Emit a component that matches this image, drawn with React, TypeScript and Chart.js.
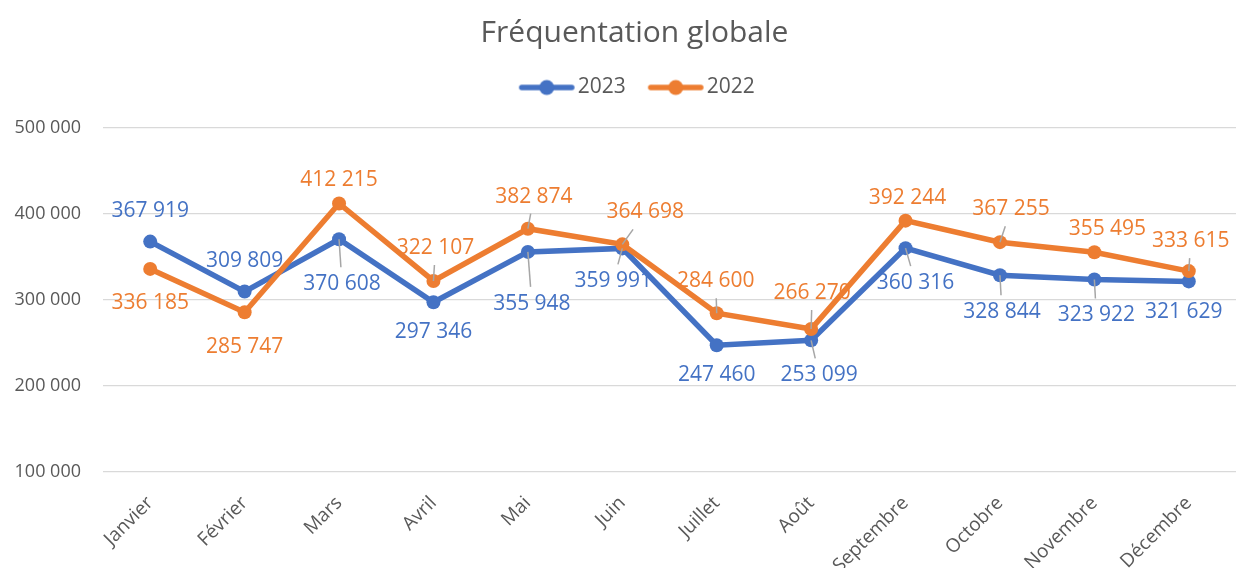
import React, { useEffect, useRef } from "react";
import { Chart, registerables } from "chart.js";

Chart.register(...registerables);

const months = [
  "Janvier", "Février", "Mars", "Avril", "Mai", "Juin",
  "Juillet", "Août", "Septembre", "Octobre", "Novembre", "Décembre",
];
const values2023 = [367919, 309809, 370608, 297346, 355948, 359991, 247460, 253099, 360316, 328844, 323922, 321629];
const values2022 = [336185, 285747, 412215, 322107, 382874, 364698, 284600, 266270, 392244, 367255, 355495, 333615];
const yMin = 100000;
const yMax = 500000;
const yStep = 100000;

// label placement relative to each point: [dx, dy, leaderLine]
const labelPos2023: [number, number, boolean][] = [
  [0, -31, false], [0, -31, false], [3, 45, true], [0, 30, false], [4, 52, true], [-9, 33, true],
  [0, 30, false], [8, 35, true], [10, 35, true], [2, 37, true], [2, 36, true], [-5, 31, false],
];
const labelPos2022: [number, number, boolean][] = [
  [0, 34, false], [0, 35, false], [0, -23, false], [2, -33, true], [6, -32, true], [23, -32, true],
  [-1, -32, true], [1, -36, true], [2, -23, false], [11, -33, true], [13, -23, false], [2, -30, true],
];

const BLUE = "#4472C4";
const ORANGE = "#ED7D31";
const FONT = "'Open Sans', sans-serif";

const fmt = (v: number) => String(v).replace(/\B(?=(\d{3})+(?!\d))/g, " ");

const valueLabels = {
  id: "valueLabels",
  afterDatasetsDraw(chart: any) {
    const ctx = chart.ctx;
    chart.data.datasets.forEach((ds: any, di: number) => {
      const meta = chart.getDatasetMeta(di);
      const layout = di === 0 ? labelPos2023 : labelPos2022;
      ctx.save();
      ctx.font = `21px ${FONT}`;
      ctx.textAlign = "center";
      ctx.textBaseline = "middle";
      meta.data.forEach((pt: any, i: number) => {
        const [dx, dy, leader] = layout[i];
        const text = fmt(ds.data[i]);
        const cx = pt.x + dx;
        const cy = pt.y + dy;
        if (leader) {
          const w = ctx.measureText(text).width / 2 + 6;
          const h = 11 + 6;
          const vx = cx - pt.x;
          const vy = cy - pt.y;
          const s = Math.min(vx ? w / Math.abs(vx) : Infinity, vy ? h / Math.abs(vy) : Infinity);
          const t = 1 - s;
          if (t > 0) {
            ctx.strokeStyle = "#a6a6a6";
            ctx.lineWidth = 1.5;
            ctx.beginPath();
            ctx.moveTo(pt.x, pt.y);
            ctx.lineTo(pt.x + vx * t, pt.y + vy * t);
            ctx.stroke();
          }
        }
        ctx.fillStyle = ds.borderColor;
        ctx.fillText(text, cx, cy);
      });
      ctx.restore();
    });
  },
};

function legendSwatch(color: string) {
  const c = document.createElement("canvas");
  c.width = 72;
  c.height = 18;
  const g = c.getContext("2d")!;
  g.strokeStyle = color;
  g.lineWidth = 5.5;
  g.lineCap = "round";
  g.beginPath();
  g.moveTo(17, 9);
  g.lineTo(67, 9);
  g.stroke();
  g.fillStyle = color;
  g.beginPath();
  g.arc(42, 9, 7.5, 0, Math.PI * 2);
  g.fill();
  return c;
}

export default function App() {
  const ref = useRef<HTMLCanvasElement>(null);
  useEffect(() => {
    if (!ref.current) return;
    const swatches = [legendSwatch(BLUE), legendSwatch(ORANGE)];
    const common = {
      borderWidth: 5.5,
      pointRadius: 7,
      pointBorderWidth: 0,
      tension: 0,
      xAxisID: "x",
      yAxisID: "y",
    };
    const chart = new Chart(ref.current, {
      type: "line",
      data: {
        labels: months,
        datasets: [
          {
            ...common,
            label: "2023",
            data: values2023,
            borderColor: BLUE,
            backgroundColor: BLUE,
            pointBackgroundColor: BLUE,
            order: 2,
          },
          {
            ...common,
            label: "2022",
            data: values2022,
            borderColor: ORANGE,
            backgroundColor: ORANGE,
            pointBackgroundColor: ORANGE,
            order: 1,
          },
        ],
      },
      options: {
        responsive: false,
        animation: false,
        events: [],
        layout: { padding: { left: 26, right: 0, top: 0, bottom: 0 } },
        plugins: {
          tooltip: { enabled: false },
          title: {
            display: true,
            text: "Fréquentation globale",
            color: "#595959",
            font: { family: FONT, size: 30, weight: "normal" },
            padding: { top: 15, bottom: 8.5 },
          },
          legend: {
            display: true,
            position: "top",
            labels: {
              usePointStyle: true,
              pointStyleWidth: 53,
              padding: 17.5,
              color: "#595959",
              font: { family: FONT, size: 21 },
              generateLabels: (c: any) => {
                const items = Chart.defaults.plugins.legend.labels.generateLabels(c);
                items.sort((a: any, b: any) => a.datasetIndex - b.datasetIndex);
                items.forEach((it: any) => {
                  it.pointStyle = swatches[it.datasetIndex];
                });
                return items;
              },
            },
          },
        },
        scales: {
          x: {
            offset: true,
            grid: { display: false },
            border: { display: false },
            ticks: {
              color: "#595959",
              font: { family: FONT, size: 19 },
              minRotation: 45,
              maxRotation: 45,
              autoSkip: false,
              padding: 12,
            },
            afterFit: (s: any) => {
              s.height = 96;
              s.paddingLeft = 0;
              s.paddingRight = 0;
            },
          },
          xTop: {
            type: "category",
            position: "top",
            offset: true,
            grid: { display: false, drawTicks: false },
            border: { display: false },
            ticks: { display: false },
            afterFit: (s: any) => {
              s.height = 20;
              s.paddingLeft = 0;
              s.paddingRight = 0;
            },
          },
          y: {
            min: yMin,
            max: yMax,
            grid: { color: "#d9d9d9", lineWidth: 1.3, drawTicks: false },
            border: { display: false },
            ticks: {
              stepSize: yStep,
              padding: 22,
              color: "#595959",
              font: { family: FONT, size: 18 },
              callback: (v: any) => fmt(Number(v)),
            },
            afterFit: (s: any) => {
              s.width = 77;
              s._computeLabelArea = () => undefined;
            },
          },
        },
      },
      plugins: [valueLabels],
    });
    return () => chart.destroy();
  }, []);
  return (
    <div style={{ position: "fixed", left: 0, top: 0, width: 1239, height: 568, overflow: "hidden", background: "#fff" }}>
      <canvas ref={ref} width={1243} height={568} style={{ display: "block" }} />
    </div>
  );
}
